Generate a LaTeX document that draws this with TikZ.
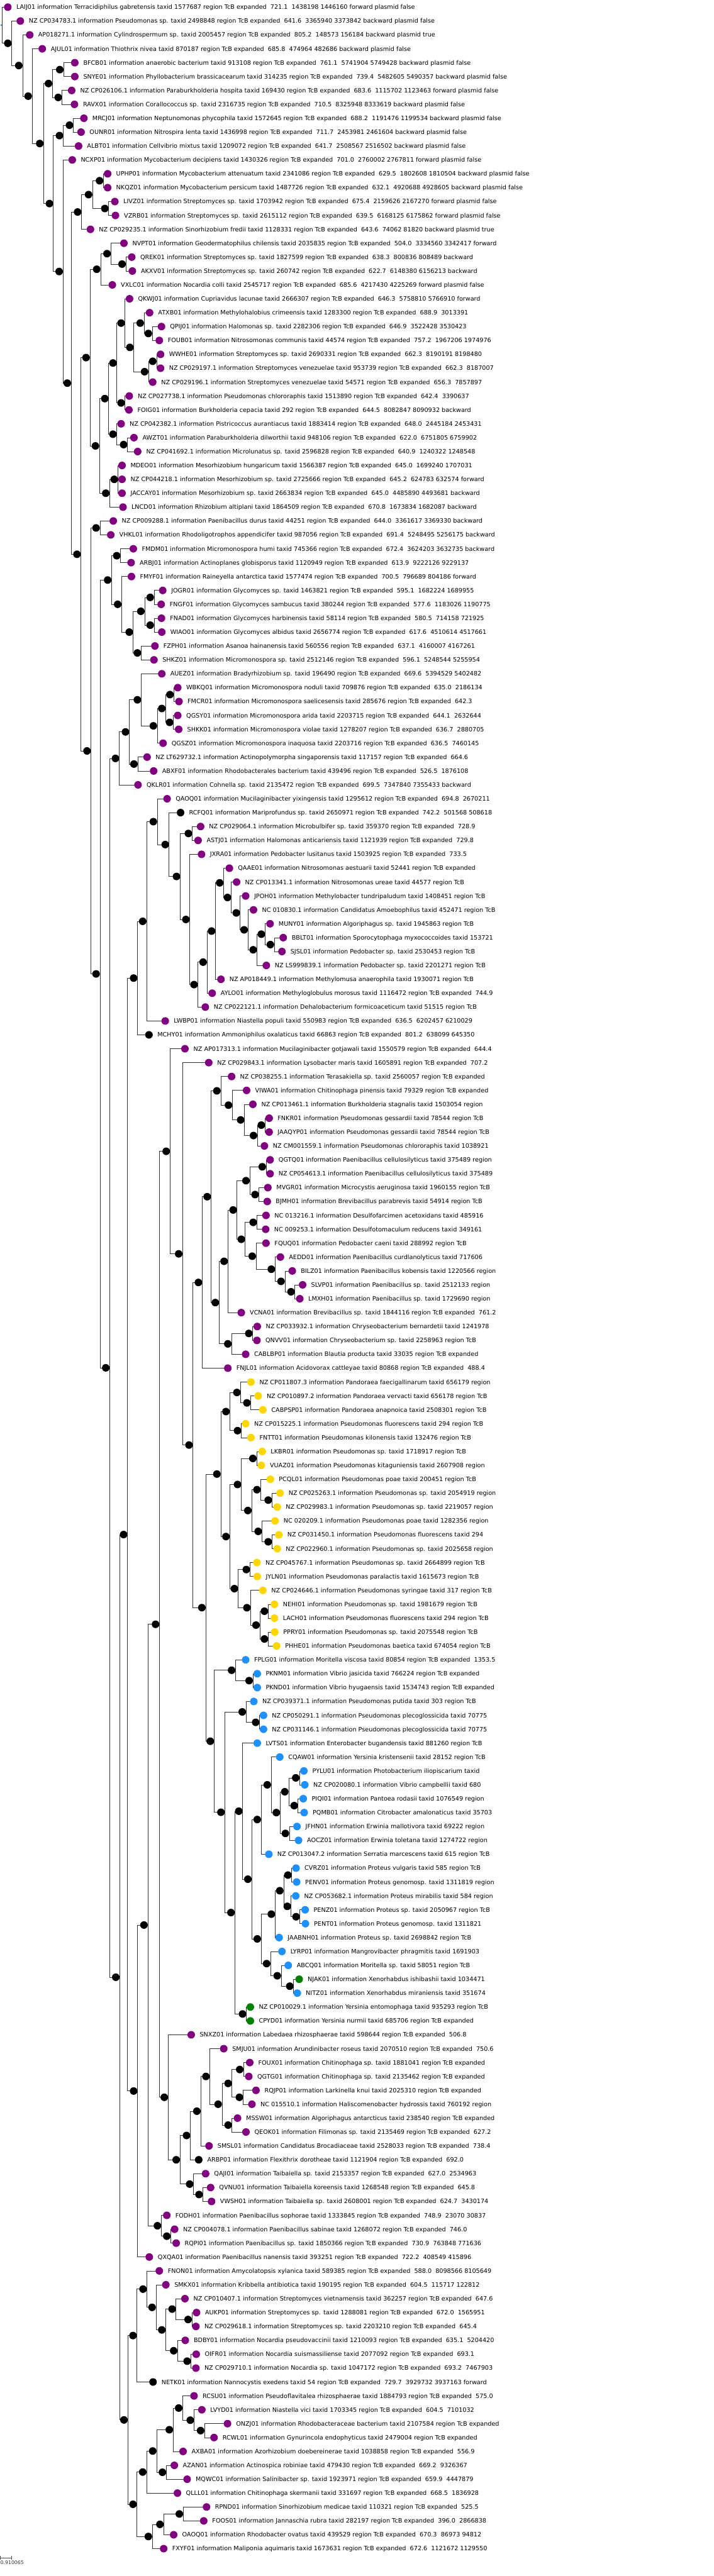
\documentclass[tikz,border=0pt]{standalone}
\usepackage{fontspec}
\newfontfamily\treefont{DejaVu Sans}
\usetikzlibrary{backgrounds,calc}
\definecolor{cpur}{HTML}{800080}
\definecolor{cgold}{HTML}{FFD700}
\definecolor{cblue}{HTML}{1E90FF}
\definecolor{cgrn}{HTML}{008000}
\definecolor{cblk}{HTML}{000000}
\tikzset{
  inode/.style={circle,fill=black,minimum size=17pt,inner sep=0pt},
  leaf/.style={circle,fill=#1,minimum size=17pt,inner sep=0pt},
  rootmark/.style={fill=cblue,minimum width=3pt,minimum height=2pt,inner sep=0pt},
  branch/.style={line width=1pt,black!80,line join=miter},
  leaflbl/.style={anchor=west,inner sep=0pt,text height=9.8pt,text depth=0pt,
    font=\treefont\fontsize{13.6}{16}\selectfont},
}
% internal node: name, x, first child, last child
\newcommand{\clade}[5][inode]{%
  \path let \p1=(#4.center), \p2=(#5.center), \p3=(#3,0) in
    node[#1] (#2) at (\x3,{(\y1+\y2)/2}) {};
  \begin{pgfonlayer}{background}
    \draw[branch] (#4.center) -- (#2.east |- #4.center)
      -- (#2.east |- #5.center) -- (#5.center);
  \end{pgfonlayer}}

\begin{document}
\begin{tikzpicture}[x=0.7015pt,y=-1pt]
  \useasboundingbox (0,0) rectangle (2280.9,5776);
  \foreach \i/\xd/\c/\t in {
    1/25/cpur/{LAIJ01 information Terracidiphilus gabretensis taxid 1577687 region TcB expanded\ \ 721.1\ \ 1438198 1446160 forward plasmid false},
    2/65/cpur/{NZ CP034783.1 information Pseudomonas sp. taxid 2498848 region TcB expanded\ \ 641.6\ \ 3365940 3373842 backward plasmid false},
    3/95/cpur/{AP018271.1 information Cylindrospermum sp. taxid 2005457 region TcB expanded\ \ 805.2\ \ 148573 156184 backward plasmid true},
    4/135/cpur/{AJUL01 information Thiothrix nivea taxid 870187 region TcB expanded\ \ 685.8\ \ 474964 482686 backward plasmid false},
    5/239/cpur/{BFCB01 information anaerobic bacterium taxid 913108 region TcB expanded\ \ 761.1\ \ 5741904 5749428 backward plasmid false},
    6/239/cpur/{SNYE01 information Phyllobacterium brassicacearum taxid 314235 region TcB expanded\ \ 739.4\ \ 5482605 5490357 backward plasmid false},
    7/229/cpur/{NZ CP026106.1 information Paraburkholderia hospita taxid 169430 region TcB expanded\ \ 683.6\ \ 1115702 1123463 forward plasmid false},
    8/238/cpur/{RAVX01 information Corallococcus sp. taxid 2316735 region TcB expanded\ \ 710.5\ \ 8325948 8333619 backward plasmid false},
    9/268/cpur/{MRCJ01 information Neptunomonas phycophila taxid 1572645 region TcB expanded\ \ 688.2\ \ 1191476 1199534 backward plasmid false},
    10/259/cpur/{OUNR01 information Nitrospira lenta taxid 1436998 region TcB expanded\ \ 711.7\ \ 2453981 2461604 backward plasmid false},
    11/251/cpur/{ALBT01 information Cellvibrio mixtus taxid 1209072 region TcB expanded\ \ 641.7\ \ 2508567 2516502 backward plasmid false},
    12/231/cpur/{NCXP01 information Mycobacterium decipiens taxid 1430326 region TcB expanded\ \ 701.0\ \ 2760002 2767811 forward plasmid false},
    13/344/cpur/{UPHP01 information Mycobacterium attenuatum taxid 2341086 region TcB expanded\ \ 629.5\ \ 1802608 1810504 backward plasmid false},
    14/344/cpur/{NKQZ01 information Mycobacterium persicum taxid 1487726 region TcB expanded\ \ 632.1\ \ 4920688 4928605 backward plasmid false},
    15/367/cpur/{LIVZ01 information Streptomyces sp. taxid 1703942 region TcB expanded\ \ 675.4\ \ 2159626 2167270 forward plasmid false},
    16/369/cpur/{VZRB01 information Streptomyces sp. taxid 2615112 region TcB expanded\ \ 639.5\ \ 6168125 6175862 forward plasmid false},
    17/289/cpur/{NZ CP029235.1 information Sinorhizobium fredii taxid 1128331 region TcB expanded\ \ 643.6\ \ 74062 81820 backward plasmid true},
    18/396/cpur/{NVPT01 information Geodermatophilus chilensis taxid 2035835 region TcB expanded\ \ 504.0\ \ 3334560 3342417 forward},
    19/421/cpur/{QREK01 information Streptomyces sp. taxid 1827599 region TcB expanded\ \ 638.3\ \ 800836 808489 backward},
    20/423/cpur/{AKXV01 information Streptomyces sp. taxid 260742 region TcB expanded\ \ 622.7\ \ 6148380 6156213 backward},
    21/359/cpur/{VXLC01 information Nocardia colli taxid 2545717 region TcB expanded\ \ 685.6\ \ 4217430 4225269 forward plasmid false},
    22/414/cpur/{QKWJ01 information Cupriavidus lacunae taxid 2666307 region TcB expanded\ \ 646.3\ \ 5758810 5766910 forward},
    23/478/cpur/{ATXB01 information Methylohalobius crimeensis taxid 1283300 region TcB expanded\ \ 688.9\ \ 3013391},
    24/516/cpur/{QPIJ01 information Halomonas sp. taxid 2282306 region TcB expanded\ \ 646.9\ \ 3522428 3530423},
    25/509/cpur/{FOUB01 information Nitrosomonas communis taxid 44574 region TcB expanded\ \ 757.2\ \ 1967206 1974976},
    26/513/cpur/{WWHE01 information Streptomyces sp. taxid 2690331 region TcB expanded\ \ 662.3\ \ 8190191 8198480},
    27/513/cpur/{NZ CP029197.1 information Streptomyces venezuelae taxid 953739 region TcB expanded\ \ 662.3\ \ 8187007},
    28/488/cpur/{NZ CP029196.1 information Streptomyces venezuelae taxid 54571 region TcB expanded\ \ 656.3\ \ 7857897},
    29/413/cpur/{NZ CP027738.1 information Pseudomonas chlororaphis taxid 1513890 region TcB expanded\ \ 642.4\ \ 3390637},
    30/412/cpur/{FOIG01 information Burkholderia cepacia taxid 292 region TcB expanded\ \ 644.5\ \ 8082847 8090932 backward},
    31/387/cpur/{NZ CP042382.1 information Pistricoccus aurantiacus taxid 1883414 region TcB expanded\ \ 648.0\ \ 2445184 2453431},
    32/428/cpur/{AWZT01 information Paraburkholderia dilworthii taxid 948106 region TcB expanded\ \ 622.0\ \ 6751805 6759902},
    33/440/cpur/{NZ CP041692.1 information Microlunatus sp. taxid 2596828 region TcB expanded\ \ 640.9\ \ 1240322 1248548},
    34/390/cpur/{MDEO01 information Mesorhizobium hungaricum taxid 1566387 region TcB expanded\ \ 645.0\ \ 1699240 1707031},
    35/390/cpur/{NZ CP044218.1 information Mesorhizobium sp. taxid 2725666 region TcB expanded\ \ 645.2\ \ 624783 632574 forward},
    36/390/cpur/{JACCAY01 information Mesorhizobium sp. taxid 2663834 region TcB expanded\ \ 645.0\ \ 4485890 4493681 backward},
    37/393/cpur/{LNCD01 information Rhizobium altiplani taxid 1864509 region TcB expanded\ \ 670.8\ \ 1673834 1682087 backward},
    38/362/cpur/{NZ CP009288.1 information Paenibacillus durus taxid 44251 region TcB expanded\ \ 644.0\ \ 3361617 3369330 backward},
    39/354/cpur/{VHKL01 information Rhodoligotrophos appendicifer taxid 987056 region TcB expanded\ \ 691.4\ \ 5248495 5256175 backward},
    40/426/cpur/{FMDM01 information Micromonospora humi taxid 745366 region TcB expanded\ \ 672.4\ \ 3624203 3632735 backward},
    41/419/cpur/{ARBJ01 information Actinoplanes globisporus taxid 1120949 region TcB expanded\ \ 613.9\ \ 9222126 9229137},
    42/420/cpur/{FMYF01 information Raineyella antarctica taxid 1577474 region TcB expanded\ \ 700.5\ \ 796689 804186 forward},
    43/520/cpur/{JOGR01 information Glycomyces sp. taxid 1463821 region TcB expanded\ \ 595.1\ \ 1682224 1689955},
    44/515/cpur/{FNGF01 information Glycomyces sambucus taxid 380244 region TcB expanded\ \ 577.6\ \ 1183026 1190775},
    45/516/cpur/{FNAD01 information Glycomyces harbinensis taxid 58114 region TcB expanded\ \ 580.5\ \ 714158 721925},
    46/517/cpur/{WIAO01 information Glycomyces albidus taxid 2656774 region TcB expanded\ \ 617.6\ \ 4510614 4517661},
    47/495/cpur/{FZPH01 information Asanoa hainanensis taxid 560556 region TcB expanded\ \ 637.1\ \ 4160007 4167261},
    48/492/cpur/{SHKZ01 information Micromonospora sp. taxid 2512146 region TcB expanded\ \ 596.1\ \ 5248544 5255954},
    49/517/cpur/{AUEZ01 information Bradyrhizobium sp. taxid 196490 region TcB expanded\ \ 669.6\ \ 5394529 5402482},
    50/568/cpur/{WBKQ01 information Micromonospora noduli taxid 709876 region TcB expanded\ \ 635.0\ \ 2186134},
    51/572/cpur/{FMCR01 information Micromonospora saelicesensis taxid 285676 region TcB expanded\ \ 642.3},
    52/568/cpur/{QGSY01 information Micromonospora arida taxid 2203715 region TcB expanded\ \ 644.1\ \ 2632644},
    53/571/cpur/{SHKK01 information Micromonospora violae taxid 1278207 region TcB expanded\ \ 636.7\ \ 2880705},
    54/521/cpur/{QGSZ01 information Micromonospora inaquosa taxid 2203716 region TcB expanded\ \ 636.5\ \ 7460145},
    55/470/cpur/{NZ LT629732.1 information Actinopolymorpha singaporensis taxid 117157 region TcB expanded\ \ 664.6},
    56/491/cpur/{ABXF01 information Rhodobacterales bacterium taxid 439496 region TcB expanded\ \ 526.5\ \ 1876108},
    57/441/cpur/{QKLR01 information Cohnella sp. taxid 2135472 region TcB expanded\ \ 699.5\ \ 7347840 7355433 backward},
    58/534/cpur/{QAOQ01 information Mucilaginibacter yixingensis taxid 1295612 region TcB expanded\ \ 694.8\ \ 2670211},
    59/577/cblk/{RCFQ01 information Mariprofundus sp. taxid 2650971 region TcB expanded\ \ 742.2\ \ 501568 508618},
    60/641/cpur/{NZ CP029064.1 information Microbulbifer sp. taxid 359370 region TcB expanded\ \ 728.9},
    61/633/cpur/{ASTJ01 information Halomonas anticariensis taxid 1121939 region TcB expanded\ \ 729.8},
    62/644/cpur/{JXRA01 information Pedobacter lusitanus taxid 1503925 region TcB expanded\ \ 733.5},
    63/733/cpur/{QAAE01 information Nitrosomonas aestuarii taxid 52441 region TcB expanded},
    64/756/cpur/{NZ CP013341.1 information Nitrosomonas ureae taxid 44577 region TcB},
    65/785/cpur/{JPOH01 information Methylobacter tundripaludum taxid 1408451 region TcB},
    66/810/cpur/{NC 010830.1 information Candidatus Amoebophilus taxid 452471 region TcB},
    67/863/cpur/{MUNY01 information Algoriphagus sp. taxid 1945863 region TcB},
    68/905/cpur/{BBLT01 information Sporocytophaga myxococcoides taxid 153721},
    69/901/cpur/{SJSL01 information Pedobacter sp. taxid 2530453 region TcB},
    70/851/cpur/{NZ LS999839.1 information Pedobacter sp. taxid 2201271 region TcB},
    71/706/cpur/{NZ AP018449.1 information Methylomusa anaerophila taxid 1930071 region TcB},
    72/678/cpur/{AYLO01 information Methyloglobulus morosus taxid 1116472 region TcB expanded\ \ 744.9},
    73/656/cpur/{NZ CP022121.1 information Dehalobacterium formicoaceticum taxid 51515 region TcB},
    74/528/cpur/{LWBP01 information Niastella populi taxid 550983 region TcB expanded\ \ 636.5\ \ 6202457 6210029},
    75/476/cblk/{MCHY01 information Ammoniphilus oxalaticus taxid 66863 region TcB expanded\ \ 801.2\ \ 638099 645350},
    76/591/cpur/{NZ AP017313.1 information Mucilaginibacter gotjawali taxid 1550579 region TcB expanded\ \ 644.4},
    77/667/cpur/{NZ CP029843.1 information Lysobacter maris taxid 1605891 region TcB expanded\ \ 707.2},
    78/740/cpur/{NZ CP038255.1 information Terasakiella sp. taxid 2560057 region TcB expanded},
    79/788/cpur/{VIWA01 information Chitinophaga pinensis taxid 79329 region TcB expanded},
    80/808/cpur/{NZ CP013461.1 information Burkholderia stagnalis taxid 1503054 region},
    81/860/cpur/{FNKR01 information Pseudomonas gessardii taxid 78544 region TcB},
    82/860/cpur/{JAAQYP01 information Pseudomonas gessardii taxid 78544 region TcB},
    83/845/cpur/{NZ CM001559.1 information Pseudomonas chlororaphis taxid 1038921},
    84/863/cpur/{QGTQ01 information Paenibacillus cellulosilyticus taxid 375489 region},
    85/863/cpur/{NZ CP054613.1 information Paenibacillus cellulosilyticus taxid 375489},
    86/856/cpur/{MVGR01 information Microcystis aeruginosa taxid 1960155 region TcB},
    87/854/cpur/{BJMH01 information Brevibacillus parabrevis taxid 54914 region TcB},
    88/850/cpur/{NC 013216.1 information Desulfofarcimen acetoxidans taxid 485916},
    89/849/cpur/{NC 009253.1 information Desulfotomaculum reducens taxid 349161},
    90/850/cpur/{FQUQ01 information Pedobacter caeni taxid 288992 region TcB},
    91/896/cpur/{AEDD01 information Paenibacillus curdlanolyticus taxid 717606},
    92/934/cpur/{BILZ01 information Paenibacillus kobensis taxid 1220566 region},
    93/967/cpur/{SLVP01 information Paenibacillus sp. taxid 2512133 region},
    94/958/cpur/{LMXH01 information Paenibacillus sp. taxid 1729690 region},
    95/771/cpur/{VCNA01 information Brevibacillus sp. taxid 1844116 region TcB expanded\ \ 761.2},
    96/822/cpur/{NZ CP033932.1 information Chryseobacterium bernardetii taxid 1241978},
    97/821/cpur/{QNVV01 information Chryseobacterium sp. taxid 2258963 region TcB},
    98/785/cpur/{CABLBP01 information Blautia producta taxid 33035 region TcB expanded},
    99/728/cpur/{FNJL01 information Acidovorax cattleyae taxid 80868 region TcB expanded\ \ 488.4},
    100/802/cgold/{NZ CP011807.3 information Pandoraea faecigallinarum taxid 656179 region},
    101/825/cgold/{NZ CP010897.2 information Pandoraea vervacti taxid 656178 region TcB},
    102/840/cgold/{CABPSP01 information Pandoraea anapnoica taxid 2508301 region TcB},
    103/785/cgold/{NZ CP015225.1 information Pseudomonas fluorescens taxid 294 region TcB},
    104/802/cgold/{FNTT01 information Pseudomonas kilonensis taxid 132476 region TcB},
    105/838/cgold/{LKBR01 information Pseudomonas sp. taxid 1718917 region TcB},
    106/835/cgold/{VUAZ01 information Pseudomonas kitaguniensis taxid 2607908 region},
    107/864/cgold/{PCQL01 information Pseudomonas poae taxid 200451 region TcB},
    108/895/cgold/{NZ CP025263.1 information Pseudomonas sp. taxid 2054919 region},
    109/886/cgold/{NZ CP029983.1 information Pseudomonas sp. taxid 2219057 region},
    110/879/cgold/{NC 020209.1 information Pseudomonas poae taxid 1282356 region},
    111/891/cgold/{NZ CP031450.1 information Pseudomonas fluorescens taxid 294},
    112/886/cgold/{NZ CP022960.1 information Pseudomonas sp. taxid 2025658 region},
    113/821/cgold/{NZ CP045767.1 information Pseudomonas sp. taxid 2664899 region TcB},
    114/822/cgold/{JYLN01 information Pseudomonas paralactis taxid 1615673 region TcB},
    115/840/cgold/{NZ CP024646.1 information Pseudomonas syringae taxid 317 region TcB},
    116/877/cgold/{NEHI01 information Pseudomonas sp. taxid 1981679 region TcB},
    117/877/cgold/{LACH01 information Pseudomonas fluorescens taxid 294 region TcB},
    118/878/cgold/{PPRY01 information Pseudomonas sp. taxid 2075548 region TcB},
    119/884/cgold/{PHHE01 information Pseudomonas baetica taxid 674054 region TcB},
    120/785/cblue/{FPLG01 information Moritella viscosa taxid 80854 region TcB expanded\ \ 1353.5},
    121/822/cblue/{PKNM01 information Vibrio jasicida taxid 766224 region TcB expanded},
    122/822/cblue/{PKND01 information Vibrio hyugaensis taxid 1534743 region TcB expanded},
    123/811/cblue/{NZ CP039371.1 information Pseudomonas putida taxid 303 region TcB},
    124/842/cblue/{NZ CP050291.1 information Pseudomonas plecoglossicida taxid 70775},
    125/842/cblue/{NZ CP031146.1 information Pseudomonas plecoglossicida taxid 70775},
    126/822/cblue/{LVTS01 information Enterobacter bugandensis taxid 881260 region TcB},
    127/894/cblue/{CQAW01 information Yersinia kristensenii taxid 28152 region TcB},
    128/971/cblue/{PYLU01 information Photobacterium iliopiscarium taxid},
    129/974/cblue/{NZ CP020080.1 information Vibrio campbellii taxid 680},
    130/969/cblue/{PIQI01 information Pantoea rodasii taxid 1076549 region},
    131/972/cblue/{PQMB01 information Citrobacter amalonaticus taxid 35703},
    132/949/cblue/{JFHN01 information Erwinia mallotivora taxid 69222 region},
    133/954/cblue/{AOCZ01 information Erwinia toletana taxid 1274722 region},
    134/859/cblue/{NZ CP013047.2 information Serratia marcescens taxid 615 region TcB},
    135/946/cblue/{CVRZ01 information Proteus vulgaris taxid 585 region TcB},
    136/948/cblue/{PENV01 information Proteus genomosp. taxid 1311819 region},
    137/945/cblue/{NZ CP053682.1 information Proteus mirabilis taxid 584 region},
    138/975/cblue/{PENZ01 information Proteus sp. taxid 2050967 region TcB},
    139/976/cblue/{PENT01 information Proteus genomosp. taxid 1311821},
    140/892/cblue/{JAABNH01 information Proteus sp. taxid 2698842 region TcB},
    141/901/cblue/{LYRP01 information Mangrovibacter phragmitis taxid 1691903},
    142/921/cblue/{ABCQ01 information Moritella sp. taxid 58051 region TcB},
    143/956/cgrn/{NJAK01 information Xenorhabdus ishibashii taxid 1034471},
    144/950/cblue/{NITZ01 information Xenorhabdus miraniensis taxid 351674},
    145/800/cgrn/{NZ CP010029.1 information Yersinia entomophaga taxid 935293 region TcB},
    146/800/cgrn/{CPYD01 information Yersinia nurmii taxid 685706 region TcB expanded},
    147/611/cpur/{SNXZ01 information Labedaea rhizosphaerae taxid 598644 region TcB expanded\ \ 506.8},
    148/715/cpur/{SMJU01 information Arundinibacter roseus taxid 2070510 region TcB expanded\ \ 750.6},
    149/798/cpur/{FOUX01 information Chitinophaga sp. taxid 1881041 region TcB expanded},
    150/795/cpur/{QGTG01 information Chitinophaga sp. taxid 2135462 region TcB expanded},
    151/818/cpur/{RQJP01 information Larkinella knui taxid 2025310 region TcB expanded},
    152/805/cpur/{NC 015510.1 information Haliscomenobacter hydrossis taxid 760192 region},
    153/759/cpur/{MSSW01 information Algoriphagus antarcticus taxid 238540 region TcB expanded},
    154/786/cpur/{QEOK01 information Filimonas sp. taxid 2135469 region TcB expanded\ \ 627.2},
    155/668/cpur/{SMSL01 information Candidatus Brocadiaceae taxid 2528033 region TcB expanded\ \ 738.4},
    156/635/cblk/{ARBP01 information Flexithrix dorotheae taxid 1121904 region TcB expanded\ \ 692.0},
    157/657/cpur/{QAJI01 information Taibaiella sp. taxid 2153357 region TcB expanded\ \ 627.0\ \ 2534963},
    158/673/cpur/{QVNU01 information Taibaiella koreensis taxid 1268548 region TcB expanded\ \ 645.8},
    159/676/cpur/{VWSH01 information Taibaiella sp. taxid 2608001 region TcB expanded\ \ 624.7\ \ 3430174},
    160/533/cpur/{FODH01 information Paenibacillus sophorae taxid 1333845 region TcB expanded\ \ 748.9\ \ 23070 30837},
    161/558/cpur/{NZ CP004078.1 information Paenibacillus sabinae taxid 1268072 region TcB expanded\ \ 746.0},
    162/563/cpur/{RQPI01 information Paenibacillus sp. taxid 1850366 region TcB expanded\ \ 730.9\ \ 763848 771636},
    163/477/cpur/{QXQA01 information Paenibacillus nanensis taxid 393251 region TcB expanded\ \ 722.2\ \ 408549 415896},
    164/509/cpur/{FNON01 information Amycolatopsis xylanica taxid 589385 region TcB expanded\ \ 588.0\ \ 8098566 8105649},
    165/530/cpur/{SMKX01 information Kribbella antibiotica taxid 190195 region TcB expanded\ \ 604.5\ \ 115717 122812},
    166/591/cpur/{NZ CP010407.1 information Streptomyces vietnamensis taxid 362257 region TcB expanded\ \ 647.6},
    167/628/cpur/{AUKP01 information Streptomyces sp. taxid 1288081 region TcB expanded\ \ 672.0\ \ 1565951},
    168/626/cpur/{NZ CP029618.1 information Streptomyces sp. taxid 2203210 region TcB expanded\ \ 645.4},
    169/592/cpur/{BDBY01 information Nocardia pseudovaccinii taxid 1210093 region TcB expanded\ \ 635.1\ \ 5204420},
    170/627/cpur/{OIFR01 information Nocardia suismassiliense taxid 2077092 region TcB expanded\ \ 693.1},
    171/626/cpur/{NZ CP029710.1 information Nocardia sp. taxid 1047172 region TcB expanded\ \ 693.2\ \ 7467903},
    172/489/cblk/{NETK01 information Nannocystis exedens taxid 54 region TcB expanded\ \ 729.7\ \ 3929732 3937163 forward},
    173/620/cpur/{RCSU01 information Pseudoflavitalea rhizosphaerae taxid 1884793 region TcB expanded\ \ 575.0},
    174/645/cpur/{LVYD01 information Niastella vici taxid 1703345 region TcB expanded\ \ 604.5\ \ 7101032},
    175/727/cpur/{ONZJ01 information Rhodobacteraceae bacterium taxid 2107584 region TcB expanded},
    176/684/cpur/{RCWL01 information Gynurincola endophyticus taxid 2479004 region TcB expanded},
    177/585/cpur/{AXBA01 information Azorhizobium doebereinerae taxid 1038858 region TcB expanded\ \ 556.9},
    178/557/cpur/{AZAN01 information Actinospica robiniae taxid 479430 region TcB expanded\ \ 669.2\ \ 9326367},
    179/598/cpur/{MQWC01 information Salinibacter sp. taxid 1923971 region TcB expanded\ \ 659.9\ \ 4447879},
    180/567/cpur/{QLLL01 information Chitinophaga skermanii taxid 331697 region TcB expanded\ \ 668.5\ \ 1836928},
    181/660/cpur/{RPND01 information Sinorhizobium medicae taxid 110321 region TcB expanded\ \ 525.5},
    182/651/cpur/{FOOS01 information Jannaschia rubra taxid 282197 region TcB expanded\ \ 396.0\ \ 2866838},
    183/555/cpur/{OAOQ01 information Rhodobacter ovatus taxid 439529 region TcB expanded\ \ 670.3\ \ 86973 94812},
    184/523/cpur/{FXYF01 information Maliponia aquimaris taxid 1673631 region TcB expanded\ \ 672.6\ \ 1121672 1129550}%
  } {
    \node[leaf=\c] (l\i) at (\xd,{16+31.14*(\i-1)}) {};
    \node[leaflbl] (t\i) at ([xshift=19pt]l\i.center) {\t};
  }

  % clades, children first
  \clade{n1}{222}{l9}{l10}
  \clade{n2}{190}{n1}{l11}
  \clade{n3}{191}{l5}{l6}
  \clade{n4}{186}{l7}{l8}
  \clade{n5}{155}{n3}{n4}
  \clade{n6}{318}{l13}{l14}
  \clade{n7}{335}{l15}{l16}
  \clade{n8}{283}{n6}{n7}
  \clade{n9}{248}{n8}{l17}
  \clade{n10}{390}{l19}{l20}
  \clade{n11}{342}{l18}{n10}
  \clade{n12}{309}{n11}{l21}
  \clade{n13}{474}{l24}{l25}
  \clade{n14}{448}{l23}{n13}
  \clade{n15}{488}{l26}{l27}
  \clade{n16}{462}{n15}{l28}
  \clade{n17}{415}{n14}{n16}
  \clade{n18}{387}{l22}{n17}
  \clade{n19}{387}{l29}{l30}
  \clade{n20}{361}{n18}{n19}
  \clade{n21}{395}{l32}{l33}
  \clade{n22}{361}{l31}{n21}
  \clade{n23}{335}{n20}{n22}
  \clade{n24}{365}{l34}{l36}
  \begin{pgfonlayer}{background}
    \draw[branch] (n24.east |- l35.center) -- (l35.center);
  \end{pgfonlayer}
  \clade{n25}{338}{n24}{l37}
  \clade{n26}{305}{n23}{n25}
  \clade{n27}{275}{n12}{n26}
  \clade{n28}{307}{l38}{l39}
  \clade{n29}{373}{l40}{l41}
  \clade{n30}{480}{l43}{l44}
  \clade{n31}{480}{l45}{l46}
  \clade{n32}{450}{n30}{n31}
  \clade{n33}{439}{l47}{l48}
  \clade{n34}{413}{n32}{n33}
  \clade{n35}{376}{l42}{n34}
  \clade{n36}{344}{n29}{n35}
  \clade{n37}{543}{l50}{l51}
  \clade{n38}{542}{l52}{l53}
  \clade{n39}{517}{n37}{n38}
  \clade{n40}{490}{n39}{l54}
  \clade{n41}{439}{l49}{n40}
  \clade{n42}{428}{l55}{l56}
  \clade{n43}{401}{n41}{n42}
  \clade{n44}{369}{n43}{l57}
  \clade{n45}{602}{l60}{l61}
  \clade{n46}{864}{l68}{l69}
  \clade{n47}{835}{l67}{n46}
  \clade{n48}{809}{n47}{l70}
  \clade{n49}{780}{l66}{n48}
  \clade{n50}{755}{l65}{n49}
  \clade{n51}{727}{l64}{n50}
  \clade{n52}{702}{l63}{n51}
  \clade{n53}{676}{n52}{l71}
  \clade{n54}{649}{n53}{l72}
  \clade{n55}{620}{n54}{l73}
  \clade{n56}{594}{l62}{n55}
  \clade{n57}{564}{n45}{n56}
  \clade{n58}{528}{l59}{n57}
  \clade{n59}{490}{l58}{n58}
  \clade{n60}{456}{n59}{l74}
  \clade{n61}{427}{n60}{l75}
  \clade{n62}{835}{l81}{l82}
  \clade{n63}{810}{n62}{l83}
  \clade{n64}{769}{l80}{n63}
  \clade{n65}{730}{l79}{n64}
  \clade{n66}{693}{l78}{n65}
  \clade{n67}{838}{l84}{l85}
  \clade{n68}{815}{l86}{l87}
  \clade{n69}{786}{n67}{n68}
  \clade{n70}{809}{l88}{l89}
  \clade{n71}{930}{l93}{l94}
  \clade{n72}{898}{l92}{n71}
  \clade{n73}{867}{l91}{n72}
  \clade{n74}{806}{l90}{n73}
  \clade{n75}{771}{n70}{n74}
  \clade{n76}{745}{n69}{n75}
  \clade{n77}{716}{n76}{l95}
  \clade{n78}{795}{l96}{l97}
  \clade{n79}{728}{n78}{l98}
  \clade{n80}{688}{n77}{n79}
  \clade{n81}{662}{n66}{n80}
  \clade{n82}{634}{n81}{l99}
  \clade{n83}{789}{l101}{l102}
  \clade{n84}{757}{l100}{n83}
  \clade{n85}{759}{l103}{l104}
  \clade{n86}{722}{n84}{n85}
  \clade{n87}{808}{l105}{l106}
  \clade{n88}{857}{l108}{l109}
  \clade{n89}{821}{l107}{n88}
  \clade{n90}{857}{l111}{l112}
  \clade{n91}{825}{l110}{n90}
  \clade{n92}{792}{n89}{n91}
  \clade{n93}{759}{n87}{n92}
  \clade{n94}{787}{l113}{l114}
  \clade{n95}{845}{l116}{l117}
  \clade{n96}{845}{l118}{l119}
  \clade{n97}{818}{n95}{n96}
  \clade{n98}{789}{l115}{n97}
  \clade{n99}{749}{n94}{n98}
  \clade{n100}{722}{n93}{n99}
  \clade{n101}{693}{n86}{n100}
  \clade{n102}{796}{l121}{l122}
  \clade{n103}{740}{l120}{n102}
  \clade{n104}{817}{l124}{l125}
  \clade{n105}{774}{l123}{n104}
  \clade{n106}{945}{l128}{l129}
  \clade{n107}{940}{l130}{l131}
  \clade{n108}{910}{n106}{n107}
  \clade{n109}{912}{l132}{l133}
  \clade{n110}{883}{n108}{n109}
  \clade{n111}{854}{l127}{n110}
  \clade{n112}{822}{n111}{l134}
  \clade{n113}{920}{l135}{l136}
  \clade{n114}{946}{l138}{l139}
  \clade{n115}{918}{l137}{n114}
  \clade{n116}{894}{n113}{n115}
  \clade{n117}{867}{n116}{l140}
  \clade{n118}{926}{l143}{l144}
  \clade{n119}{886}{l142}{n118}
  \clade{n120}{852}{l141}{n119}
  \clade{n121}{822}{n117}{n120}
  \clade{n122}{792}{n112}{n121}
  \clade{n123}{763}{l126}{n122}
  \clade{n124}{775}{l145}{l146}
  \clade{n125}{738}{n123}{n124}
  \clade{n126}{706}{n105}{n125}
  \clade{n127}{672}{n103}{n126}
  \clade{n128}{645}{n101}{n127}
  \clade{n129}{604}{n82}{n128}
  \clade{n130}{571}{l77}{n129}
  \clade{n131}{531}{l76}{n130}
  \clade{n132}{766}{l149}{l150}
  \clade{n133}{765}{l151}{l152}
  \clade{n134}{729}{n132}{n133}
  \clade{n135}{729}{l153}{l154}
  \clade{n136}{697}{n134}{n135}
  \clade{n137}{658}{l148}{n136}
  \clade{n138}{629}{n137}{l155}
  \clade{n139}{596}{n138}{l156}
  \clade{n140}{636}{l158}{l159}
  \clade{n141}{606}{l157}{n140}
  \clade{n142}{563}{n139}{n141}
  \clade{n143}{525}{l147}{n142}
  \clade{n144}{497}{n131}{n143}
  \clade{n145}{533}{l161}{l162}
  \clade{n146}{503}{l160}{n145}
  \clade{n147}{460}{n144}{n146}
  \clade{n148}{427}{n147}{l163}
  \clade{n149}{395}{n61}{n148}
  \clade{n150}{601}{l167}{l168}
  \clade{n151}{550}{l166}{n150}
  \clade{n152}{598}{l170}{l171}
  \clade{n153}{555}{l169}{n152}
  \clade{n154}{517}{n151}{n153}
  \clade{n155}{486}{l165}{n154}
  \clade{n156}{457}{l164}{n155}
  \clade{n157}{425}{n156}{l172}
  \clade{n158}{641}{l175}{l176}
  \clade{n159}{608}{l174}{n158}
  \clade{n160}{571}{l173}{n159}
  \clade{n161}{541}{n160}{l177}
  \clade{n162}{519}{l178}{l179}
  \clade{n163}{488}{n161}{n162}
  \clade{n164}{456}{n163}{l180}
  \clade{n165}{573}{l181}{l182}
  \clade{n166}{511}{n165}{l183}
  \clade{n167}{474}{n166}{l184}
  \clade{n168}{425}{n164}{n167}
  \clade{n169}{396}{n157}{n168}
  \clade{n170}{370}{n149}{n169}
  \clade{n171}{338}{n44}{n170}
  \clade{n172}{307}{n36}{n171}
  \clade{n173}{278}{n28}{n172}
  \clade{n174}{246}{n27}{n173}
  \clade{n175}{215}{n9}{n174}
  \clade{n176}{189}{l12}{n175}
  \clade{n177}{158}{n2}{n176}
  \clade{n178}{127}{n5}{n177}
  \clade{n179}{90}{l4}{n178}
  \clade{n180}{60}{l3}{n179}
  \clade{n181}{25}{l2}{n180}
  \clade[rootmark]{root}{4}{l1}{n181}

  % scale bar
  \coordinate (sbl) at (1,5735);
  \coordinate (sbr) at (36,5735);
  \draw[black!70,line width=1pt] ([yshift=4pt]sbl) -- ([yshift=-4pt]sbl)
    (sbl) -- (sbr) ([yshift=4pt]sbr) -- ([yshift=-4pt]sbr);
  \node[anchor=north west,inner sep=0pt,font=\treefont\fontsize{11}{13}\selectfont,black!80]
    (sblabel) at ([yshift=-7pt]sbl) {0.910065};
\end{tikzpicture}
\end{document}
